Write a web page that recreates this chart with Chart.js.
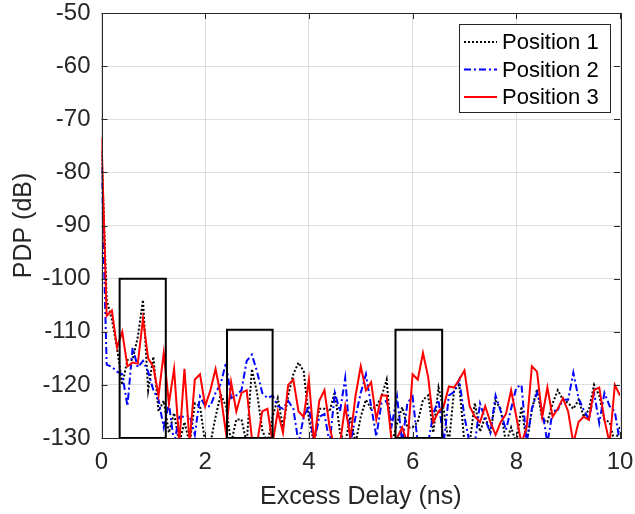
<!DOCTYPE html>
<html>
<head>
<meta charset="utf-8">
<script src="https://cdn.jsdelivr.net/npm/chart.js@4/dist/chart.umd.min.js"></script>
<style>
  html, body { margin: 0; padding: 0; background: #fff; }
  #wrap { width: 635px; height: 514px; position: relative; }
</style>
</head>
<body>
<div id="wrap"><canvas id="pdp"></canvas></div>
<script>
// Excess delay grid (ns) and PDP per receiver position (dB).
const delayNs = [
  0.0, 0.1, 0.2, 0.3, 0.4, 0.5, 0.6, 0.7, 0.8, 0.9,
  1.0, 1.1, 1.2, 1.3, 1.4, 1.5, 1.6, 1.7, 1.8, 1.9,
  2.0, 2.1, 2.2, 2.3, 2.4, 2.5, 2.6, 2.7, 2.8, 2.9,
  3.0, 3.1, 3.2, 3.3, 3.4, 3.5, 3.6, 3.7, 3.8, 3.9,
  4.0, 4.1, 4.2, 4.3, 4.4, 4.5, 4.6, 4.7, 4.8, 4.9,
  5.0, 5.1, 5.2, 5.3, 5.4, 5.5, 5.6, 5.7, 5.8, 5.9,
  6.0, 6.1, 6.2, 6.3, 6.4, 6.5, 6.6, 6.7, 6.8, 6.9,
  7.0, 7.1, 7.2, 7.3, 7.4, 7.5, 7.6, 7.7, 7.8, 7.9,
  8.0, 8.1, 8.2, 8.3, 8.4, 8.5, 8.6, 8.7, 8.8, 8.9,
  9.0, 9.1, 9.2, 9.3, 9.4, 9.5, 9.6, 9.7, 9.8, 9.9,
  10.0,
];

const pdpPos1 = [
  -76, -104, -107.7, -113, -120, -115.3, -115.3, -111, -104, -121,
  -114.7, -125, -123, -129, -125.3, -131, -127, -131, -123.5, -124,
  -131, -131, -126, -121.8, -124, -131, -126.5, -126.5, -131, -117,
  -121.5, -128.5, -131, -126, -122.5, -128, -122, -118, -115.8, -117.5,
  -126.5, -131, -124.5, -124.5, -125, -121.3, -129, -131, -126, -131,
  -126, -122.8, -124.5, -124.1, -122.2, -119, -131, -127.2, -124.2, -128,
  -128, -127, -122.8, -122, -129, -120.5, -124.7, -131, -121, -120,
  -131, -131, -123.4, -128.8, -126, -129, -123, -124.5, -131, -128,
  -131, -124.1, -131, -124.7, -120.8, -126.5, -127, -123.5, -121, -122.8,
  -123.4, -124.5, -122.8, -126, -124.7, -120, -122, -126.6, -127, -131,
  -127.9,
];

const pdpPos2 = [
  -79, -116.2, -116.6, -117.5, -118, -124, -113, -116.7, -115.5, -117.5,
  -121, -122.8, -128, -123.5, -131, -126, -126, -125.8, -129.4, -122.2,
  -124, -124, -121.5, -119.8, -115.8, -122.5, -122, -121, -115.5, -114.3,
  -117.5, -121.5, -122.5, -122, -124, -124.5, -123, -124.5, -131, -126,
  -124, -131, -126, -125.5, -131, -121.5, -125, -118.7, -131, -126,
  -121.5, -118, -124, -129.7, -123.5, -123, -127.5, -122.2, -131, -123.4,
  -122.2, -131, -131, -131, -125.3, -122.8, -131, -122, -121.3, -119,
  -126, -131, -131, -123.5, -126.5, -129, -122, -125, -128.5, -124.5,
  -120.5, -120, -131, -124.5, -121.5, -124.7, -131, -125, -124.7, -122.8,
  -122.8, -117.7, -122.5, -124.7, -126.5, -121.5, -127.2, -121.5, -124, -125,
  -131,
];

const pdpPos3 = [
  -73.5, -107, -106, -113, -110, -116.5, -115.8, -116, -107.5, -115,
  -116.6, -122, -114, -123.5, -117, -131, -117, -131, -119, -118,
  -124, -121, -117, -122, -129, -119.5, -125, -121.5, -121, -130,
  -131, -125, -124.5, -131, -125, -129, -120, -119, -125, -126,
  -119, -131, -123, -121, -128, -132, -131, -124, -130, -122,
  -116.5, -121, -119.5, -126.5, -122, -122, -131, -130, -128, -131,
  -118, -119, -114, -118.5, -127, -125, -124, -120.3, -120.5, -119,
  -117.3, -124, -126, -127, -124, -127, -129.4, -127, -125.5, -121,
  -126, -131, -128, -116.5, -117.5, -126, -120.5, -126, -124.5, -122.5,
  -125, -131, -127, -126, -126.6, -121, -120.5, -126.6, -131, -120,
  -122,
];

// Highlighted delay windows (ns) and the level of their top edge (dB).
const boxStartNs = [0.35, 2.42, 5.67];
const boxEndNs = [1.24, 3.3, 6.57];
const boxTopDb = [-100, -109.6, -109.6];

const seriesLabels = ["Position 1", "Position 2", "Position 3"];

const FONT = '"Liberation Sans", Arial, Helvetica, sans-serif';
const AXIS_COLOR = "#262626";
const Y_MIN = -130;

const toPoints = (ys) => ys.map((y, i) => ({ x: delayNs[i], y }));

const boxDatasets = boxStartNs.map((a, i) => ({
  label: "",
  data: [
    { x: a, y: Y_MIN },
    { x: a, y: boxTopDb[i] },
    { x: boxEndNs[i], y: boxTopDb[i] },
    { x: boxEndNs[i], y: Y_MIN },
    { x: a, y: Y_MIN },
  ],
  borderColor: "#000",
  borderWidth: 2,
  pointRadius: 0,
  order: 0,
}));

// MATLAB-style box: frame on all four sides with inward ticks.
const frame = {
  id: "frame",
  afterDatasetsDraw(chart) {
    const { ctx, chartArea: a, scales } = chart;
    const len = 6;
    ctx.save();
    ctx.strokeStyle = AXIS_COLOR;
    ctx.lineWidth = 1;
    ctx.beginPath();
    scales.x.ticks.forEach((t) => {
      const px = Math.round(scales.x.getPixelForValue(t.value)) + 0.5;
      ctx.moveTo(px, a.bottom); ctx.lineTo(px, a.bottom - len);
      ctx.moveTo(px, a.top); ctx.lineTo(px, a.top + len);
    });
    scales.y.ticks.forEach((t) => {
      const py = Math.round(scales.y.getPixelForValue(t.value)) + 0.5;
      ctx.moveTo(a.left, py); ctx.lineTo(a.left + len, py);
      ctx.moveTo(a.right, py); ctx.lineTo(a.right - len, py);
    });
    ctx.stroke();
    ctx.strokeRect(Math.round(a.left) + 0.5, Math.round(a.top) + 0.5,
      Math.round(a.right - a.left), Math.round(a.bottom - a.top));
    ctx.restore();
  },
};

// Legend boxed inside the top-right corner of the plot area.
const insideLegend = {
  id: "insideLegend",
  afterDraw(chart) {
    const { ctx, chartArea: a } = chart;
    const items = chart.data.datasets.filter((d) => d.label);
    const w = 151, h = 88, rowH = 27.5;
    const x0 = Math.round(a.right - 10 - w), y0 = Math.round(a.top + 11);
    ctx.save();
    ctx.fillStyle = "#fff";
    ctx.fillRect(x0, y0, w, h);
    ctx.strokeStyle = AXIS_COLOR;
    ctx.lineWidth = 1;
    ctx.strokeRect(x0 + 0.5, y0 + 0.5, w, h);
    items.forEach((d, i) => {
      const y = y0 + 18 + i * rowH;
      ctx.setLineDash(d.borderDash || []);
      ctx.strokeStyle = d.borderColor;
      ctx.lineWidth = d.borderWidth;
      ctx.beginPath();
      ctx.moveTo(x0 + 5, y);
      ctx.lineTo(x0 + 38, y);
      ctx.stroke();
      ctx.setLineDash([]);
      ctx.fillStyle = "#000";
      ctx.font = "22px " + FONT;
      ctx.textBaseline = "middle";
      ctx.fillText(d.label, x0 + 43, y + 1);
    });
    ctx.restore();
  },
};

new Chart(document.getElementById("pdp").getContext("2d"), {
  type: "line",
  data: {
    datasets: [
      {
        label: seriesLabels[0],
        data: toPoints(pdpPos1),
        borderColor: "#000",
        borderWidth: 2,
        borderDash: [2, 2],
        pointRadius: 0,
        order: 3,
      },
      {
        label: seriesLabels[1],
        data: toPoints(pdpPos2),
        borderColor: "#0000ff",
        borderWidth: 2,
        borderDash: [7, 3, 2, 3],
        pointRadius: 0,
        order: 2,
      },
      {
        label: seriesLabels[2],
        data: toPoints(pdpPos3),
        borderColor: "#ff0000",
        borderWidth: 2,
        pointRadius: 0,
        order: 1,
      },
      ...boxDatasets,
    ],
  },
  options: {
    responsive: true,
    maintainAspectRatio: false,
    animation: false,
    layout: { padding: { top: 13, right: 15, left: 0, bottom: 0 } },
    plugins: { legend: { display: false }, tooltip: { enabled: false } },
    scales: {
      x: {
        type: "linear",
        min: 0,
        max: 10,
        // fixed band below the plot; edge labels may overhang the margins
        afterFit: (s) => { s.height = 76; s.paddingLeft = 0; s.paddingRight = 0; },
        ticks: { stepSize: 2, color: AXIS_COLOR, padding: 10, font: { family: FONT, size: 24 } },
        grid: { color: "#dedede", drawTicks: false },
        border: { display: false },
        title: {
          display: true,
          text: "Excess Delay (ns)",
          color: AXIS_COLOR,
          font: { family: FONT, size: 25 },
          padding: { bottom: 2, top: 0 },
        },
      },
      y: {
        min: Y_MIN,
        max: -50,
        afterFit: (s) => { s.width = 101.5; s.paddingTop = 0; s.paddingBottom = 0; },
        ticks: { stepSize: 10, color: AXIS_COLOR, padding: 11, font: { family: FONT, size: 24 } },
        grid: { color: "#dedede", drawTicks: false },
        border: { display: false },
        title: {
          display: true,
          text: "PDP (dB)",
          color: AXIS_COLOR,
          font: { family: FONT, size: 25 },
          padding: { top: 9, bottom: 0 },
        },
      },
    },
  },
  plugins: [frame, insideLegend],
});
</script>
</body>
</html>
